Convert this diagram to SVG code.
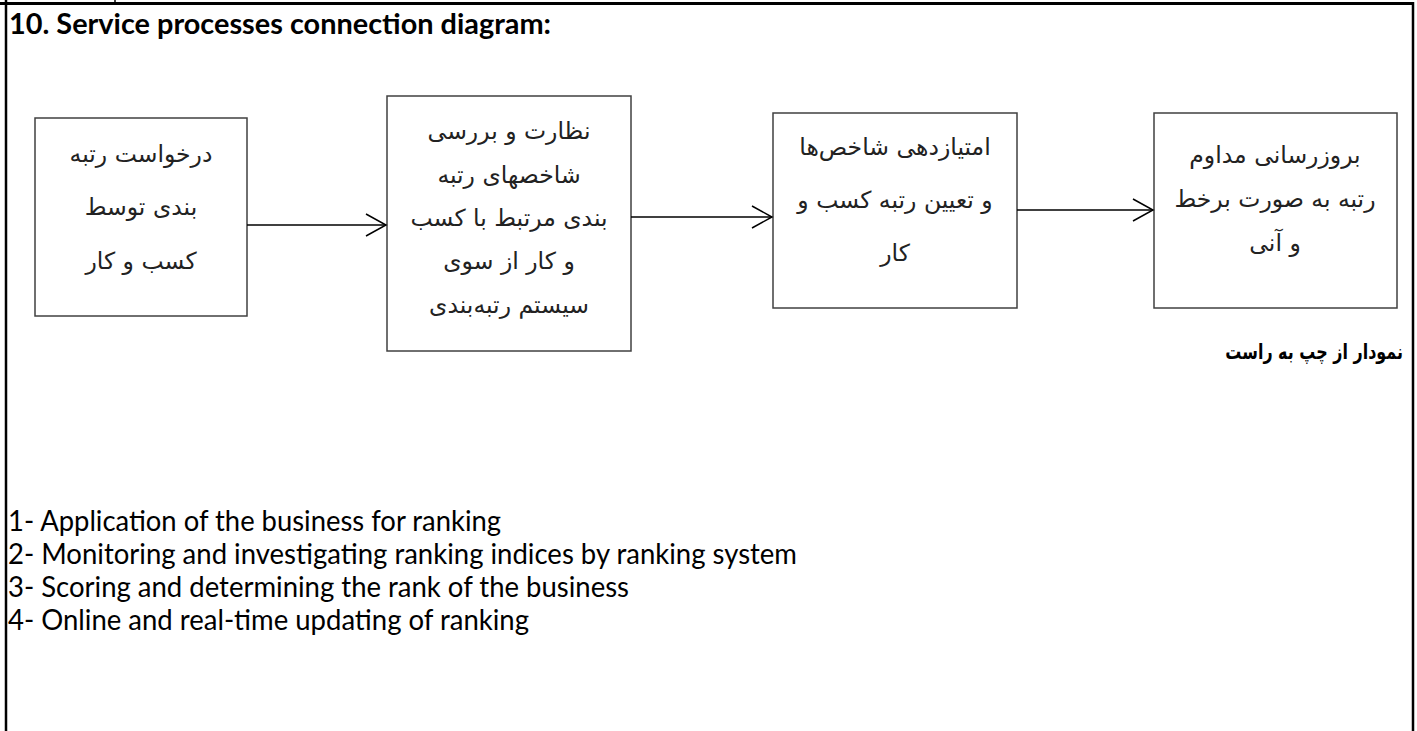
<svg xmlns="http://www.w3.org/2000/svg" width="1417" height="731" viewBox="0 0 1417 731">
  <style>
    .frame { stroke: #000; fill: none; }
    .box { fill: #fff; stroke: #404040; stroke-width: 1.5; }
    .fa { font-family: "DejaVu Sans", sans-serif; font-size: 23.5px; fill: #222; text-anchor: middle; }
    .en { font-family: Lato, "Open Sans", "Liberation Sans", sans-serif; font-size: 28px; fill: #000; }
    .title { font-family: Lato, "Open Sans", "Liberation Sans", sans-serif; font-size: 29px; font-weight: bold; fill: #000; }
    .fab { font-family: "DejaVu Sans", sans-serif; font-size: 21px; font-weight: bold; fill: #000; text-anchor: end; }
    .conn { stroke: #000; stroke-width: 1.5; fill: none; marker-end: url(#chev); }
  </style>
  <defs>
    <marker id="chev" markerUnits="userSpaceOnUse" markerWidth="24" markerHeight="26" refX="21" refY="12" orient="auto">
      <path d="M1,1 L21,12 L1,23" fill="none" stroke="#000" stroke-width="1.5"/>
    </marker>
  </defs>
  <rect width="1417" height="731" fill="#fff"/>
  <g id="frame">
    <line class="frame" x1="0" y1="3.5" x2="1414" y2="3.5" stroke-width="3"/>
    <line class="frame" x1="6" y1="0" x2="6" y2="731" stroke-width="2.5"/>
    <line class="frame" x1="1413" y1="2" x2="1413" y2="731" stroke-width="2.5"/>
    <line class="frame" x1="115" y1="0" x2="115" y2="3" stroke-width="1.5"/>
  </g>
  <g id="title">
    <text class="title" x="9" y="34" textLength="542" lengthAdjust="spacingAndGlyphs">10. Service processes connection diagram:</text>
  </g>
  <g id="node1">
    <rect class="box" x="35" y="118" width="212" height="198"/>
    <text class="fa" x="141" y="162">درخواست رتبه</text>
    <text class="fa" x="141" y="215">بندی توسط</text>
    <text class="fa" x="141" y="269">کسب و کار</text>
  </g>
  <g id="node2">
    <rect class="box" x="387" y="96" width="244" height="255"/>
    <text class="fa" x="509" y="139">نظارت و بررسی</text>
    <text class="fa" x="509" y="183">شاخصهای رتبه</text>
    <text class="fa" x="509" y="226">بندی مرتبط با کسب</text>
    <text class="fa" x="509" y="269">و کار از سوی</text>
    <text class="fa" x="509" y="313">سیستم رتبه&#8204;بندی</text>
  </g>
  <g id="node3">
    <rect class="box" x="773" y="113" width="244" height="195"/>
    <text class="fa" x="895" y="155">امتیازدهی شاخص&#8204;ها</text>
    <text class="fa" x="895" y="208">و تعیین رتبه کسب و</text>
    <text class="fa" x="895" y="261">کار</text>
  </g>
  <g id="node4">
    <rect class="box" x="1154" y="113" width="243" height="195"/>
    <text class="fa" x="1275" y="163">بروزرسانی مداوم</text>
    <text class="fa" x="1275" y="207">رتبه به صورت برخط</text>
    <text class="fa" x="1275" y="251">و آنی</text>
  </g>
  <g id="connectors">
    <line class="conn" x1="247" y1="225" x2="386" y2="225"/>
    <line class="conn" x1="631" y1="217" x2="772" y2="217"/>
    <line class="conn" x1="1017" y1="210" x2="1153" y2="210"/>
  </g>
  <g id="note" transform="translate(1403,359) scale(0.76,1)">
    <text class="fab" x="0" y="0">نمودار از چپ به راست</text>
  </g>
  <g id="legend">
    <text class="en" x="8" y="531" textLength="493" lengthAdjust="spacingAndGlyphs">1- Application of the business for ranking</text>
    <text class="en" x="8" y="564" textLength="789" lengthAdjust="spacingAndGlyphs">2- Monitoring and investigating ranking indices by ranking system</text>
    <text class="en" x="8" y="597" textLength="621" lengthAdjust="spacingAndGlyphs">3- Scoring and determining the rank of the business</text>
    <text class="en" x="8" y="630" textLength="521" lengthAdjust="spacingAndGlyphs">4- Online and real-time updating of ranking</text>
  </g>
</svg>
